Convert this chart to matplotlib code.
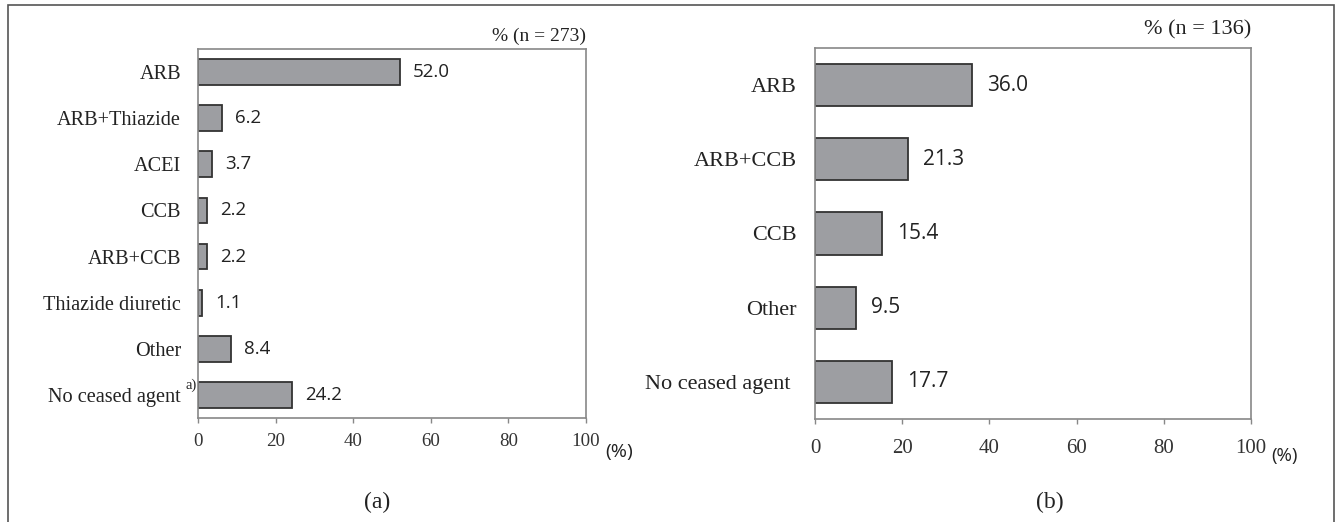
import matplotlib.pyplot as plt
from matplotlib.patches import Rectangle

# Data
labels_a = ['ARB', 'ARB+Thiazide', 'ACEI', 'CCB', 'ARB+CCB', 'Thiazide diuretic', 'Other', 'No ceased agent']
values_a = [52.0, 6.2, 3.7, 2.2, 2.2, 1.1, 8.4, 24.2]
labels_b = ['ARB', 'ARB+CCB', 'CCB', 'Other', 'No ceased agent']
values_b = [36.0, 21.3, 15.4, 9.5, 17.7]
xticks = [0, 20, 40, 60, 80, 100]

W, H = 1337, 522
fig = plt.figure(figsize=(W / 100, H / 100), dpi=100)

# outer frame
fig.patches.append(Rectangle((8 / W, -0.02), (1334 - 8) / W, 1.02 - 5 / H,
                             transform=fig.transFigure, fill=False,
                             edgecolor='#555555', linewidth=1.2))


def px_axes(x0, x1, y0, y1):
    return fig.add_axes([x0 / W, 1 - y1 / H, (x1 - x0) / W, (y1 - y0) / H])


def panel(ax, labels, values, header, tag, sizes, bar_h, pad, tpad, hdr_y, pct_xy, tag_xy):
    lab_size, num_size, tick_size, hdr_size, pct_size, tag_size = sizes
    pos = list(range(len(labels)))
    ax.barh(pos, values, height=bar_h, color='#9d9ea2', edgecolor='#333333', linewidth=1.3)
    ax.set_ylim(len(labels) - 0.5, -0.5)
    ax.set_xlim(0, 100)
    ax.set_xticks(xticks)
    ax.set_xticklabels([str(t) for t in xticks], family='Liberation Serif', fontsize=tick_size, color='#333333')
    ax.set_yticks(pos)
    ax.set_yticklabels(labels, family='Liberation Serif', fontsize=lab_size, color='#222222')
    ax.tick_params(axis='y', length=0, pad=pad)
    ax.tick_params(axis='x', length=3.6, width=1, color='#888888', pad=tpad)
    for s in ax.spines.values():
        s.set_color('#888888')
        s.set_linewidth(1.2)
    for p, v in zip(pos, values):
        ax.text(v + 3.4, p, f'{v:.1f}', va='center', ha='left', family='Open Sans',
                fontsize=num_size, color='#222222')
    ax.text(1.0, hdr_y, header, transform=ax.transAxes, ha='right', va='bottom',
            family='Liberation Serif', fontsize=hdr_size, color='#222222')
    ax.text(pct_xy[0], pct_xy[1], '(%)', transform=ax.transAxes, ha='center', va='center',
            family='Open Sans', fontsize=pct_size, color='#222222')
    ax.text(tag_xy[0], tag_xy[1], tag, transform=ax.transAxes, ha='center', va='center',
            family='Liberation Serif', fontsize=tag_size, color='#222222')


ax_a = px_axes(198, 586, 49, 418)
panel(ax_a, labels_a, values_a, '% (n = 273)', '(a)', (14.6, 13.5, 13.6, 14, 14, 17),
      0.56, 12.2, 7.5, 1.01, (1.085, -0.092), (0.461, -0.228))
# footnote marker next to the last label
ax_a.text(-0.2, 7 - 0.2, 'a)', ha='right', va='center',
          family='Liberation Serif', fontsize=10.5, color='#222222')

ax_b = px_axes(815, 1251, 48, 419)
panel(ax_b, labels_b, values_b, '% (n = 136)', '(b)', (16, 15, 15, 16, 13.5, 17),
      0.57, 13, 10.5, 1.022, (1.076, -0.0997), (0.539, -0.224))
ax_b.get_yticklabels()[-1].set_x(-0.014)

plt.savefig('out.png', dpi=100)
